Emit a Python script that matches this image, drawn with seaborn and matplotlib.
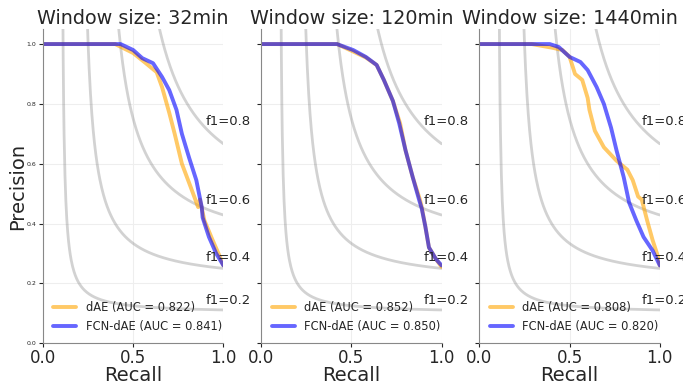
import numpy as np
import matplotlib
matplotlib.use("Agg")
import matplotlib.pyplot as plt
import seaborn as sns

# window sizes shown in the panel titles
windows = ["32min", "120min", "1440min"]
auc_dae = [0.822, 0.852, 0.808]
auc_fcn = [0.841, 0.850, 0.820]

# precision-recall curves (recall, precision)
rec_dae_32 = [0.0, 0.40, 0.50, 0.57, 0.63, 0.66, 0.70, 0.73, 0.77, 0.82, 0.86, 0.87, 0.895, 0.94, 0.98, 1.0]
pre_dae_32 = [1.0, 1.0, 0.97, 0.936, 0.906, 0.856, 0.77, 0.70, 0.60, 0.52, 0.455, 0.48, 0.41, 0.345, 0.29, 0.26]
rec_fcn_32 = [0.0, 0.43, 0.50, 0.55, 0.61, 0.66, 0.70, 0.74, 0.77, 0.81, 0.85, 0.88, 0.885, 0.92, 0.96, 1.0]
pre_fcn_32 = [1.0, 1.0, 0.98, 0.953, 0.936, 0.89, 0.846, 0.78, 0.70, 0.62, 0.545, 0.455, 0.42, 0.355, 0.30, 0.26]

rec_dae_120 = [0.0, 0.42, 0.51, 0.58, 0.64, 0.68, 0.73, 0.77, 0.80, 0.84, 0.88, 0.89, 0.91, 0.93, 0.97, 1.0]
pre_dae_120 = [1.0, 1.0, 0.975, 0.955, 0.93, 0.88, 0.81, 0.735, 0.645, 0.555, 0.48, 0.455, 0.39, 0.32, 0.28, 0.255]
rec_fcn_120 = [0.0, 0.42, 0.51, 0.58, 0.64, 0.68, 0.73, 0.765, 0.80, 0.84, 0.875, 0.89, 0.91, 0.93, 0.97, 1.0]
pre_fcn_120 = [1.0, 1.0, 0.98, 0.957, 0.93, 0.88, 0.81, 0.735, 0.645, 0.555, 0.48, 0.45, 0.39, 0.32, 0.28, 0.26]

rec_dae_1440 = [0.0, 0.29, 0.41, 0.46, 0.50, 0.53, 0.57, 0.60, 0.61, 0.64, 0.69, 0.76, 0.82, 0.85, 0.88, 0.90, 0.93, 0.96, 0.99, 1.0]
pre_dae_1440 = [1.0, 1.0, 0.987, 0.98, 0.957, 0.90, 0.88, 0.82, 0.78, 0.71, 0.655, 0.61, 0.58, 0.545, 0.49, 0.48, 0.41, 0.345, 0.29, 0.26]
rec_fcn_1440 = [0.0, 0.39, 0.44, 0.50, 0.56, 0.60, 0.65, 0.69, 0.73, 0.76, 0.80, 0.83, 0.87, 0.91, 0.96, 1.0]
pre_fcn_1440 = [1.0, 1.0, 0.99, 0.957, 0.94, 0.913, 0.856, 0.80, 0.72, 0.645, 0.555, 0.47, 0.41, 0.355, 0.31, 0.26]

dae_curves = [(rec_dae_32, pre_dae_32), (rec_dae_120, pre_dae_120), (rec_dae_1440, pre_dae_1440)]
fcn_curves = [(rec_fcn_32, pre_fcn_32), (rec_fcn_120, pre_fcn_120), (rec_fcn_1440, pre_fcn_1440)]

f_scores = [0.2, 0.4, 0.6, 0.8]

sns.set_style("whitegrid", {"grid.color": "#eeeeee", "axes.edgecolor": "#888888"})

fig, axes = plt.subplots(1, 3, figsize=(6.83, 3.83), dpi=100, sharey=True)

for i, ax in enumerate(axes):
    # iso-f1 curves
    x = np.linspace(0.01, 1, 400)
    for f in f_scores:
        y = f * x / (2 * x - f)
        ax.plot(x[y >= 0], y[y >= 0], color="gray", alpha=0.35, lw=2)
        xl = 0.01 + 45 * 0.99 / 49
        ax.annotate(f"f1={f:0.1f}", xy=(0.9, f * xl / (2 * xl - f) + 0.02),
                    fontsize=9.5, annotation_clip=False)

    r, p = dae_curves[i]
    sns.lineplot(x=r, y=p, ax=ax, sort=False, estimator=None, color="orange", alpha=0.6, lw=2.8,
                 label=f"dAE (AUC = {auc_dae[i]:.3f})")
    r, p = fcn_curves[i]
    sns.lineplot(x=r, y=p, ax=ax, sort=False, estimator=None, color="blue", alpha=0.6, lw=2.8,
                 label=f"FCN-dAE (AUC = {auc_fcn[i]:.3f})")

    ax.set_xlim(0, 1)
    ax.set_ylim(0, 1.05)
    ax.set_xticks([0.0, 0.5, 1.0])
    ax.set_yticks([0.0, 0.2, 0.4, 0.6, 0.8, 1.0])
    ax.tick_params(axis="x", labelsize=12, length=3, pad=1.5, bottom=True)
    ax.tick_params(axis="y", labelsize=4.5, length=3, pad=2, left=True)
    ax.set_xlabel("Recall", fontsize=14, labelpad=-1)
    ax.set_title(f"Window size: {windows[i]}", fontsize=13.8, pad=4)
    ax.legend(loc="lower left", frameon=False, fontsize=8.3, handlelength=2.0)
    sns.despine(ax=ax)

axes[0].set_ylabel("Precision", fontsize=14, labelpad=-1)

plt.subplots_adjust(left=0.063, right=0.966, bottom=0.104, top=0.924, wspace=0.21)
plt.savefig("out.png", dpi=100)
